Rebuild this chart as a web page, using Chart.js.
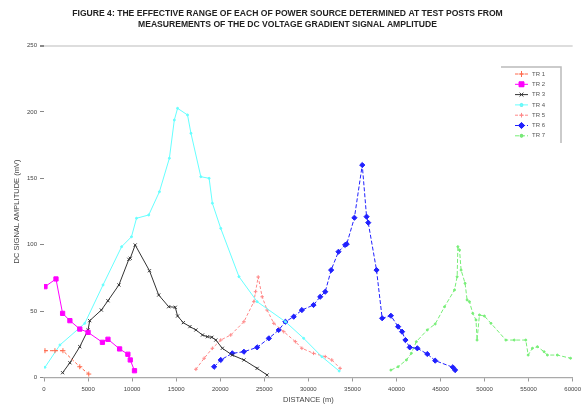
<!DOCTYPE html>
<html>
<head>
<meta charset="utf-8">
<script src="https://cdn.jsdelivr.net/npm/chart.js@4"></script>
<style>
html,body{margin:0;padding:0;background:#fff;}
#wrap{position:relative;width:585px;height:406px;}
</style>
</head>
<body>
<div id="wrap"><canvas id="c" width="585" height="406"></canvas></div>
<script>
// ---- data (distance in m, amplitude in mV) ----
const titleLines = [
  "FIGURE 4: THE EFFECTIVE RANGE OF EACH OF POWER SOURCE DETERMINED AT TEST POSTS FROM",
  "MEASUREMENTS OF THE DC VOLTAGE GRADIENT SIGNAL AMPLITUDE"
];
const xAxisTitle = "DISTANCE (m)";
const yAxisTitle = "DC SIGNAL AMPLITUDE (mV)";
const seriesNames = ["TR 1", "TR 2", "TR 3", "TR 4", "TR 5", "TR 6", "TR 7"];

const tr1X = [110, 1240, 2150, 4060, 5080];
const tr1Y = [20.2, 20.2, 20.2, 8.1, 2.6];

const tr2X = [110, 1360, 2110, 2940, 4060, 5000, 6630, 7260, 8580, 9520, 9790, 10270];
const tr2Y = [68.4, 74.2, 48.3, 42.8, 36.5, 34.0, 26.5, 28.8, 21.5, 17.5, 13.2, 5.1];

const tr3X = [2110, 2940, 4060, 5000, 5190, 6510, 7260, 8500, 9630, 9790, 10350, 11970, 13020, 14150, 14900, 15160, 15810, 16560, 17240, 17990, 18550, 19050, 19500, 20240, 21370, 22690, 24190, 25320];
const tr3Y = [3.6, 11.1, 23.2, 35.8, 42.8, 50.8, 57.8, 69.7, 89.0, 89.8, 99.8, 80.4, 62.1, 53.3, 52.9, 46.3, 41.3, 38.3, 35.8, 32.0, 30.7, 30.3, 28.2, 22.0, 16.9, 13.2, 6.9, 1.9];

const tr4X = [110, 1810, 4630, 6700, 8810, 9930, 10500, 11890, 13100, 14230, 14790, 15160, 16290, 16680, 17800, 18740, 19110, 20060, 22130, 24190, 27400, 29470, 31530, 33500];
const tr4Y = [7.7, 24.5, 40.8, 69.7, 98.5, 106.0, 119.9, 122.4, 139.9, 165.1, 193.9, 202.7, 197.7, 183.9, 151.2, 150.0, 131.2, 112.3, 75.9, 57.1, 42.0, 29.5, 15.7, 4.9];

const tr5X = [17240, 18180, 19110, 20060, 21190, 22690, 23820, 24010, 24310, 24760, 25320, 26080, 27210, 28530, 29270, 30590, 31920, 32660, 33610];
const tr5Y = [6.2, 14.5, 22.0, 28.2, 32.0, 42.0, 57.1, 64.6, 75.7, 60.8, 50.8, 40.8, 34.5, 27.0, 22.0, 18.2, 15.7, 13.2, 6.9];

const tr6X = [19310, 20060, 21370, 22690, 24190, 25520, 26640, 27400, 28340, 29270, 30590, 31350, 31920, 32590, 33420, 34180, 34360, 35230, 36120, 36610, 36800, 37740, 38380, 39370, 40190, 40640, 41020, 41510, 42370, 43500, 44400, 46400, 46660];
const tr6Y = [8.1, 13.2, 18.2, 19.4, 22.7, 29.5, 35.8, 42.0, 45.8, 50.8, 54.6, 60.8, 64.6, 80.9, 94.7, 99.8, 100.5, 120.3, 160.0, 121.1, 116.6, 80.9, 44.6, 46.5, 38.3, 34.5, 28.2, 22.7, 22.0, 17.7, 12.7, 7.7, 5.6];

const tr7X = [39370, 40190, 41130, 41690, 42260, 43500, 44400, 45460, 46590, 46890, 46970, 47160, 47340, 47790, 48020, 48290, 48660, 49030, 49150, 49420, 49980, 50730, 52420, 53370, 54680, 54950, 55430, 56000, 56760, 57130, 58260, 59760];
const tr7Y = [5.6, 8.1, 13.2, 18.2, 27.0, 35.8, 40.3, 53.3, 65.9, 75.9, 98.5, 96.0, 80.9, 70.9, 58.4, 57.1, 48.3, 43.3, 28.2, 47.1, 46.3, 40.8, 28.2, 28.2, 28.2, 16.9, 22.0, 23.2, 19.4, 16.9, 16.9, 14.5];

const xTickValues = [0, 5000, 10000, 15000, 20000, 25000, 30000, 35000, 40000, 45000, 50000, 55000, 60000];
const yTickValues = [0, 50, 100, 150, 200, 250];

// ---- build ----
function pts(xs, ys) { return xs.map((x, i) => ({x: x, y: ys[i]})); }

const styles = [
  {color: '#ff6a4d', point: 'cross', r: 2.5, dash: [3, 2]},
  {color: '#ff00ff', point: 'rect', r: 3, dash: []},
  {color: '#333333', point: 'crossRot', r: 2.2, dash: []},
  {color: '#66ffff', point: 'circle', r: 1, dash: []},
  {color: '#ff8888', point: 'cross', r: 1.8, dash: [3, 2]},
  {color: '#2020ff', point: 'rectRot', r: 2.6, dash: [4, 2]},
  {color: '#77ee77', point: 'circle', r: 1, dash: [4, 2]}
];
const xs = [tr1X, tr2X, tr3X, tr4X, tr5X, tr6X, tr7X];
const ys = [tr1Y, tr2Y, tr3Y, tr4Y, tr5Y, tr6Y, tr7Y];

const datasets = seriesNames.map((name, i) => ({
  label: name,
  data: pts(xs[i], ys[i]),
  showLine: true,
  borderColor: styles[i].color,
  backgroundColor: styles[i].color,
  borderWidth: 1,
  borderDash: styles[i].dash,
  pointStyle: styles[i].point,
  pointRadius: styles[i].r,
  pointBorderWidth: 1,
  pointBorderColor: styles[i].color,
  pointBackgroundColor: styles[i].color,
  tension: 0
}));

const FONT = "'Liberation Sans', Arial, sans-serif";

const boxLegend = {
  id: 'boxLegend',
  afterDraw(chart) {
    const ctx = chart.ctx;
    const x0 = 501, y0 = 67, w = 60, h = 76;
    ctx.save();
    ctx.strokeStyle = '#bbbbbb';
    ctx.lineWidth = 1.5;
    ctx.beginPath();
    ctx.moveTo(x0, y0); ctx.lineTo(x0 + w, y0); ctx.lineTo(x0 + w, y0 + h);
    ctx.stroke();
    ctx.font = '6px ' + FONT;
    ctx.textBaseline = 'middle';
    chart.data.datasets.forEach((ds, i) => {
      const yy = y0 + 7 + i * 10.3;
      ctx.strokeStyle = ds.borderColor;
      ctx.lineWidth = 1;
      ctx.setLineDash(ds.borderDash || []);
      ctx.beginPath(); ctx.moveTo(515, yy); ctx.lineTo(528, yy); ctx.stroke();
      ctx.setLineDash([]);
      Chart.helpers.drawPoint(ctx, {pointStyle: ds.pointStyle, radius: ds.pointRadius + 0.5, borderWidth: 1}, 521.5, yy);
      ctx.fillStyle = ds.borderColor;
      ctx.fill();
      ctx.fillStyle = '#555555';
      ctx.fillText(ds.label, 532, yy);
    });
    ctx.restore();
  }
};

new Chart(document.getElementById('c'), {
  type: 'scatter',
  data: {datasets: datasets},
  plugins: [boxLegend],
  options: {
    responsive: false,
    animation: false,
    layout: {padding: {left: 0, right: 10, top: 0, bottom: 0}},
    plugins: {
      legend: {display: false},
      tooltip: {enabled: false},
      title: {
        display: true,
        text: titleLines,
        color: '#222222',
        font: {family: FONT, size: 8.6, weight: 'bold', lineHeight: 1.28},
        padding: {top: 8.5, bottom: 15}
      }
    },
    scales: {
      x: {
        type: 'linear',
        min: 0, max: 60000,
        afterBuildTicks: s => { s.ticks = xTickValues.map(v => ({value: v})); },
        afterFit: s => { s.height = 28.5; },
        ticks: {
          color: '#444444',
          font: {family: FONT, size: 6},
          padding: 4,
          maxRotation: 0,
          autoSkip: false,
          callback: v => String(v)
        },
        grid: {display: true, drawOnChartArea: false, tickLength: 4, color: '#999999'},
        border: {display: true, color: '#aaaaaa', width: 1.2},
        title: {
          display: true, text: xAxisTitle, color: '#444444',
          font: {family: FONT, size: 7.5}, padding: {top: 0, bottom: 1.5}
        }
      },
      y: {
        type: 'linear',
        min: 0, max: 250,
        afterBuildTicks: s => { s.ticks = yTickValues.map(v => ({value: v})); },
        afterFit: s => { s.width = 44; },
        ticks: {
          color: '#444444',
          font: {family: FONT, size: 6},
          padding: 3,
          callback: v => String(v)
        },
        grid: {
          display: true,
          drawOnChartArea: true,
          tickLength: 4,
          color: ctx => (ctx.tick && ctx.tick.value === 250) ? '#dddddd' : 'rgba(0,0,0,0)',
          lineWidth: ctx => (ctx.tick && ctx.tick.value === 250) ? 2 : 1,
          tickColor: '#888888'
        },
        border: {display: false},
        title: {
          display: true, text: yAxisTitle, color: '#444444',
          font: {family: FONT, size: 7.5}, padding: {top: 12.5, bottom: 0}
        }
      }
    }
  }
});
</script>
</body>
</html>
